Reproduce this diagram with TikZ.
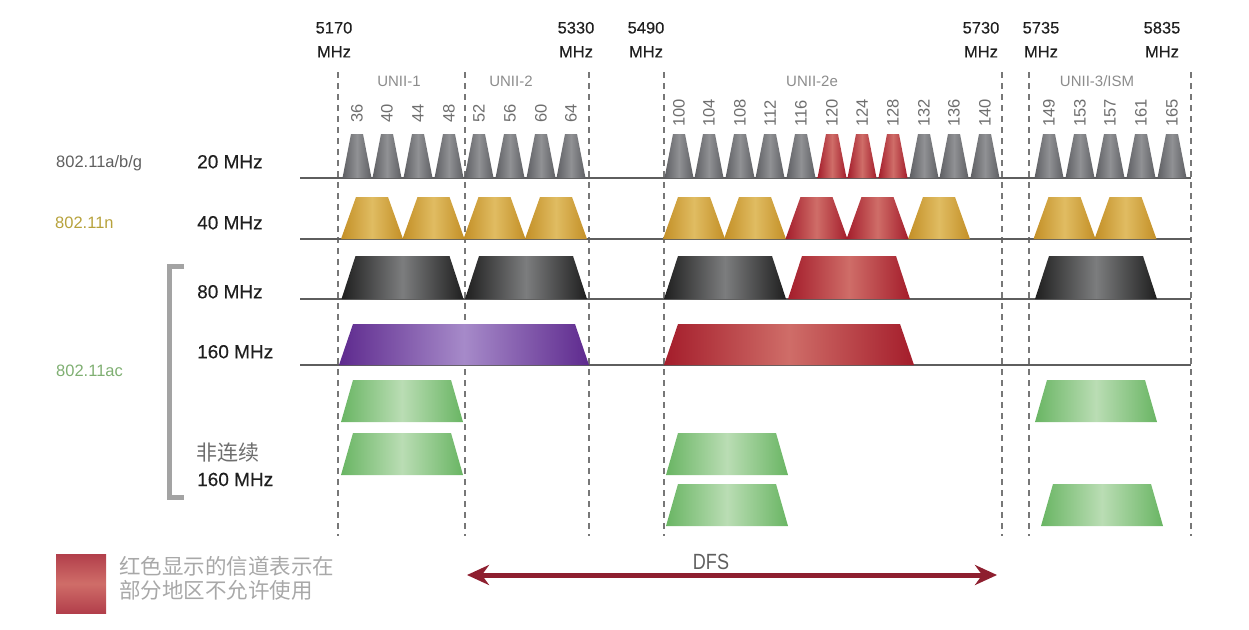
\documentclass[tikz,border=0pt]{standalone}
\usepackage{fontspec}
\setmainfont{Liberation Sans}
\newfontfamily\medfont{Liberation Sans}[FakeBold=0.3]
\newfontfamily\cjk{Noto Sans CJK SC}
\usetikzlibrary{arrows.meta}

\definecolor{txtdark}{HTML}{1F1F1F}
\definecolor{chgrey}{HTML}{6E6E6E}
\definecolor{bandgrey}{HTML}{8C8C8C}
\definecolor{linegrey}{HTML}{5E5E5E}
\definecolor{dashgrey}{HTML}{777777}
\definecolor{legendgrey}{HTML}{A8A8A8}
\definecolor{bracegrey}{HTML}{A3A3A3}
\definecolor{abgcol}{HTML}{5F5F5F}
\definecolor{ncol}{HTML}{B7A23C}
\definecolor{accol}{HTML}{7FAF72}
\definecolor{dfsred}{HTML}{8E1F2F}
\definecolor{greyE}{HTML}{5E5F63}
\definecolor{greyM}{HTML}{909194}
\definecolor{redE}{HTML}{A41D2B}
\definecolor{redM}{HTML}{CF6D68}
\definecolor{goldE}{HTML}{C38F26}
\definecolor{goldM}{HTML}{E0BC62}
\definecolor{blackE}{HTML}{1F1F1F}
\definecolor{blackM}{HTML}{7C7D7E}
\definecolor{purpE}{HTML}{5E2A8E}
\definecolor{purpM}{HTML}{A68AC9}
\definecolor{greenE}{HTML}{69B563}
\definecolor{greenM}{HTML}{BADDB4}

\begin{document}
\begin{tikzpicture}[x=1pt,y=-1pt,
	freqlab/.style={inner sep=0pt, align=center, text=txtdark, font=\medfont\fontsize{16.5}{24}\selectfont},
	bandlab/.style={inner sep=0pt, anchor=base, text=bandgrey, font=\fontsize{15}{18}\selectfont},
	chlab/.style={inner sep=0pt, rotate=90, text=chgrey, font=\fontsize{16.5}{18}\selectfont},
	rowlab/.style={inner sep=0pt, anchor=base west, text=txtdark, font=\medfont\fontsize{19}{22}\selectfont},
	stdlab/.style={inner sep=0pt, anchor=base west, font=\fontsize{16.5}{20}\selectfont},
	bandedge/.style={dashgrey, line width=1.5pt, dash pattern=on 6pt off 5pt},
	rowline/.style={linegrey, line width=2pt},
	chgrey/.style={left color=greyE, right color=greyE, middle color=greyM},
	chred/.style={left color=redE, right color=redE, middle color=redM},
	chgold/.style={left color=goldE, right color=goldE, middle color=goldM},
	chblack/.style={left color=blackE, right color=blackE, middle color=blackM},
	chpurple/.style={left color=purpE, right color=purpE, middle color=purpM},
	chgreen/.style={left color=greenE, right color=greenE, middle color=greenM}]
	\useasboundingbox (0,0) rectangle (1249,629);

	% band edges and frequencies
	\foreach \x in {338,465,589,664,1002,1029,1191} {
		\draw[bandedge] (\x,72) -- (\x,536);
	}
	\foreach \f/\x in {5170/334,5330/576,5490/646,5730/981,5735/1041,5835/1162} {
		\node[freqlab] (f\f) at (\x,39.7) {\f\\MHz};
	}
	\node[bandlab] (unii1) at (399,86) {UNII-1};
	\node[bandlab] (unii2) at (511,86) {UNII-2};
	\node[bandlab] (unii2e) at (812,86) {UNII-2e};
	\node[bandlab] (unii3) at (1097,86) {UNII-3/ISM};

	% channel numbers
	\foreach \c/\x in {36/357,40/387,44/418,48/449,52/479,56/510,60/541,64/571,
		100/679,104/709,108/740,112/770,116/801,120/832,124/862,128/893,132/924,136/954,140/985,
		149/1049,153/1080,157/1110,161/1141,165/1172} {
		\node[chlab] (ch\c) at (\x,113) {\c};
	}

	% row base lines
	\foreach \y in {178,239,299,365} {
		\draw[rowline] (300,\y) -- (1191,\y);
	}

	% 20 MHz
	\foreach \x in {357,387,418,449,479,510,541,571,679,709,740,770,801,924,954,985,1049,1080,1110,1141,1172} {
		\shade[chgrey] (\x-14.5,178) -- (\x-6,134) -- (\x+6,134) -- (\x+14.5,178) -- cycle;
	}
	\foreach \x in {832,862,893} {
		\shade[chred] (\x-14.5,178) -- (\x-6,134) -- (\x+6,134) -- (\x+14.5,178) -- cycle;
	}

	% 40 MHz
	\foreach \x in {372,433.5,494.5,556,694,755,939,1064.5,1125.5} {
		\shade[chgold] (\x-31,239) -- (\x-16,197) -- (\x+16,197) -- (\x+31,239) -- cycle;
	}
	\foreach \x in {816.5,877.5} {
		\shade[chred] (\x-31,239) -- (\x-16,197) -- (\x+16,197) -- (\x+31,239) -- cycle;
	}

	% 80 MHz
	\foreach \x in {402.5,526,725,1096} {
		\shade[chblack] (\x-61,299) -- (\x-47,256) -- (\x+47,256) -- (\x+61,299) -- cycle;
	}
	\shade[chred] (849-61,299) -- (849-47,256) -- (849+47,256) -- (849+61,299) -- cycle;

	% 160 MHz
	\shade[chpurple] (464-125,365) -- (464-111,324) -- (464+111,324) -- (464+125,365) -- cycle;
	\shade[chred] (789-125,365) -- (789-111,324) -- (789+111,324) -- (789+125,365) -- cycle;

	% non-contiguous 160 MHz
	\foreach \x/\y in {402/380,1096/380,402/433,727/433,727/484,1102/484} {
		\shade[chgreen] (\x-61,\y+42) -- (\x-49,\y) -- (\x+49,\y) -- (\x+61,\y+42) -- cycle;
	}

	% row labels
	\node[stdlab, text=abgcol] (abg) at (56,167) {802.11a/b/g};
	\node[stdlab, text=ncol] (std_n) at (55,228.5) {802.11n};
	\node[stdlab, text=accol] (std_ac) at (56,376.5) {802.11ac};
	\node[rowlab] (w20) at (197,168.3) {20 MHz};
	\node[rowlab] (w40) at (197,229.3) {40 MHz};
	\node[rowlab] (w80) at (197,298.3) {80 MHz};
	\node[rowlab] (w160) at (197,358.3) {160 MHz};
	\node[rowlab, text=chgrey, font=\cjk\fontsize{21}{24}\selectfont] (nc) at (196,460) {非连续};
	\node[rowlab] (nc160) at (197,486) {160 MHz};
	\draw[bracegrey, line width=5pt] (184,266) -- (169,266) -- (169,497) -- (184,497);

	% legend and DFS
	\shade[top color=redE!85!white, bottom color=redE!85!white, middle color=redM] (56,554) rectangle (106,613);
	\node[inner sep=0pt, anchor=base west, text=legendgrey, align=left, font=\cjk\fontsize{21.5}{24}\selectfont] (legend) at (119,598) {红色显示的信道表示在\\部分地区不允许使用};
	\coordinate (dfsL) at (467,575);
	\coordinate (dfsR) at (997,575);
	\draw[dfsred, line width=5pt, {Stealth[length=22pt,width=20pt]}-{Stealth[length=22pt,width=20pt]}] (dfsL) -- (dfsR);
	\node[inner sep=0pt, anchor=base, xscale=0.82, text=abgcol, font=\fontsize{22}{24}\selectfont] (dfs) at (711,569) {DFS};
\end{tikzpicture}
\end{document}
